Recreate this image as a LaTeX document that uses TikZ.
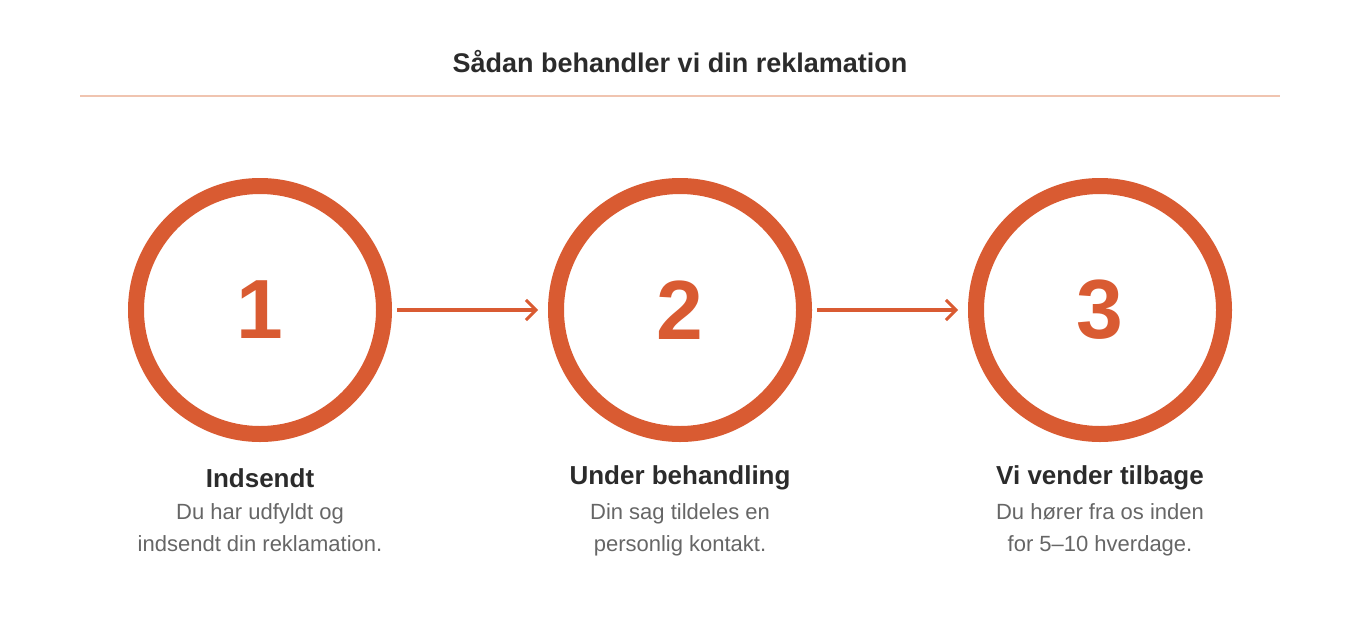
\documentclass[tikz,border=0pt]{standalone}
\usepackage{fontspec}
\setmainfont{Liberation Sans}
\usetikzlibrary{arrows.meta}
\definecolor{org}{HTML}{D95B32}
\definecolor{dark}{HTML}{2B2B2B}
\definecolor{gr}{HTML}{666666}
\definecolor{rule}{HTML}{F0C4B0}
\tikzset{
 ring/.style={circle,draw=org,line width=16pt,minimum size=248pt,inner sep=0pt,text=org,font=\fontsize{84}{84}\selectfont\bfseries},
 lab/.style={text=dark,font=\fontsize{26}{30}\selectfont\bfseries},
 desc/.style={text=gr,font=\fontsize{22}{32}\selectfont,align=center},
 conn/.style={draw=org,line width=3.5pt,-{Straight Barb[length=10pt,width=20pt,line width=3pt]}}
}
\begin{document}
\begin{tikzpicture}[x=1pt,y=-1pt]
\useasboundingbox (0,0) rectangle (1360,640);
\node[text=dark,font=\fontsize{27}{30}\selectfont\bfseries] (t) at (680,62) {Sådan behandler vi din reklamation};
\draw[rule,line width=2pt] (80,96) coordinate (r1) -- (1280,96) coordinate (r2);
\node[ring] (c1) at (260,310) {1};
\node[ring] (c2) at (680,310) {2};
\node[ring] (c3) at (1100,310) {3};
\coordinate (a1) at (397,310); \coordinate (b1) at (538,310);
\coordinate (a2) at (817,310); \coordinate (b2) at (958,310);
\draw[conn] (a1) -- (b1);
\draw[conn] (a2) -- (b2);
\node[lab] (l1) at (260,478) {Indsendt};
\node[lab] (l2) at (680,478) {Under behandling};
\node[lab] (l3) at (1100,478) {Vi vender tilbage};
\node[desc,anchor=north] (d1) at (260,500) {Du har udfyldt og\\indsendt din reklamation.};
\node[desc,anchor=north] (d2) at (680,500) {Din sag tildeles en\\personlig kontakt.};
\node[desc,anchor=north] (d3) at (1100,500) {Du hører fra os inden\\for 5–10 hverdage.};
\end{tikzpicture}
\end{document}
